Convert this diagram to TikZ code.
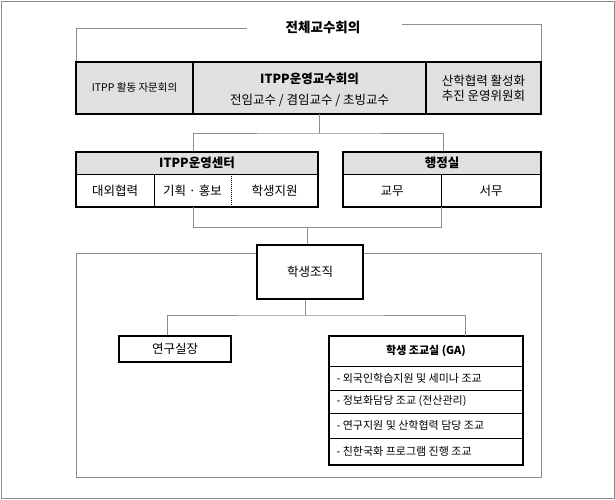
\documentclass[tikz,border=0pt]{standalone}
\usepackage{fontspec}
\setmainfont{Noto Sans CJK KR}
\begin{document}
\begin{tikzpicture}[x=1pt,y=-1pt,
  thick box/.style={draw=black,line width=1.2pt},
  gline/.style={draw=black!45,line width=0.7pt},
  hdr/.style={fill=black!12},
  lbl/.style={font=\fontsize{12.5}{15}\selectfont},
  blbl/.style={font=\fontsize{12.5}{15}\selectfont\bfseries},
  glbl/.style={font=\fontsize{11}{13}\selectfont,anchor=west}]
\useasboundingbox (0,0) rectangle (615,499);
\draw[gline] (1,1) rectangle (614,498);
% top label and bracket
\node[font=\fontsize{13.5}{15}\selectfont\bfseries] (all) at (323,27) {전체교수회의};
\coordinate (tl) at (76,62); \coordinate (tr) at (541,62);
\draw[gline] (247,28) -- (76,28) -- (tl);
\draw[gline] (402,24) -- (541,24) -- (tr);
% top row
\filldraw[hdr,thick box] (76,62) rectangle (541,114);
\draw[thick box] (193,62) -- (193,114) (426,62) -- (426,114);
\node[font=\fontsize{10.5}{12}\selectfont] (adv) at (134.5,88) {ITPP 활동 자문회의};
\node[blbl] (op) at (309.5,79) {ITPP운영교수회의};
\node[lbl] (prof) at (309.5,100) {전임교수 / 겸임교수 / 초빙교수};
\node[lbl,align=center] (ind) at (483.5,88) {산학협력 활성화\\추진 운영위원회};
\coordinate (topb) at (319,114);
% ITPP center
\coordinate (cL) at (193,152); \coordinate (cR) at (443,152);
\draw[gline] (topb) -- (319,133) (cL) |- (319,133) -| (cR);
\filldraw[hdr] (76,152) rectangle (318,174);
\draw[thick box] (76,152) rectangle (318,207);
\draw[densely dotted,line width=1pt] (76,174) -- (318,174);
\draw[thick box,line width=0.8pt] (154,174) -- (154,207);
\draw[densely dotted,line width=1pt] (231,174) -- (231,207);
\node[blbl] (ctr) at (197,163) {ITPP운영센터};
\node[lbl] (c1) at (115,191) {대외협력};
\node[lbl] (c2) at (192.5,191) {기획 · 홍보};
\node[lbl] (c3) at (274.5,191) {학생지원};
% admin
\filldraw[hdr] (343,152) rectangle (541,174);
\draw[thick box] (343,152) rectangle (541,207);
\draw[densely dotted,line width=1pt] (343,174) -- (541,174);
\draw[line width=0.6pt] (441,174) -- (441,207);
\node[blbl] (adm) at (442,163) {행정실};
\node[lbl] (a1) at (392,191) {교무};
\node[lbl] (a2) at (491,191) {서무};
% lower connector
\coordinate (bL) at (193,207); \coordinate (bR) at (441,207);
\draw[gline] (bL) |- (441,227) -- (bR);
% student org frame
\draw[gline] (76,253) rectangle (541,477);
\node[thick box,fill=white,minimum width=106pt,minimum height=54pt,lbl] (stu) at (310,272) {학생조직};
\draw[gline] (307,227) -- (stu.north -| 307,0);
% lower level
\node[thick box,minimum width=112pt,minimum height=26pt,lbl] (res) at (175,349) {연구실장};
\draw[thick box] (329,336) rectangle (523,465);
\coordinate (ga) at (426,336);
\draw[gline] (stu.south -| 305,0) -- (305,315);
\draw[gline] (res.north -| 167,0) |- (305,315) -| (465,336);
\draw[line width=0.6pt] (329,366) -- (523,366) (329,390) -- (523,390) (329,413) -- (523,413) (329,438) -- (523,438);
\node[font=\fontsize{11}{13}\selectfont\bfseries] (gat) at (426,351) {학생 조교실 (GA)};
\node[glbl] (g1) at (333,378) {- 외국인학습지원 및 세미나 조교};
\node[glbl] (g2) at (333,401.5) {- 정보화담당 조교 (전산관리)};
\node[glbl] (g3) at (333,425.5) {- 연구지원 및 산학협력 담당 조교};
\node[glbl] (g4) at (333,451.5) {- 친한국화 프로그램 진행 조교};
\end{tikzpicture}
\end{document}
